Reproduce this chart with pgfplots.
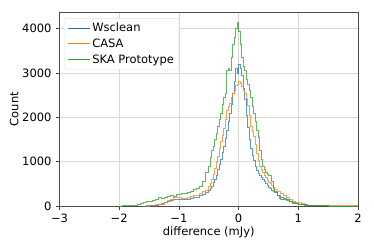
\documentclass[border=0pt]{standalone}
\usepackage{pgfplots}
\pgfplotsset{compat=1.18}
\usepackage{fontspec}
\setmainfont{DejaVu Sans}
\definecolor{cA}{HTML}{1F77B4}
\definecolor{cB}{HTML}{FF7F0E}
\definecolor{cC}{HTML}{2CA02C}
\colorlet{lA}{cA!65!white}
\colorlet{lB}{cB!65!white}
\colorlet{lC}{cC!65!white}
\begin{document}
\fontsize{11.5bp}{13.5bp}\selectfont
\begin{tikzpicture}
\begin{axis}[
  name=ax,
  scale only axis,
  width=298.5bp, height=193.7bp,
  xmin=-3, xmax=2, ymin=0, ymax=4370,
  xtick={-3,-2,-1,0,1,2},
  xticklabels={−3,−2,−1,0,1,2},
  ytick={0,1000,2000,3000,4000},
  yticklabels={0,1000,2000,3000,4000},
  tick align=outside,
  tick pos=left,
  major tick length=3.5bp,
  tick style={black!75, line width=0.6pt},
  axis line style={black!70, line width=0.7pt},
  grid=major,
  grid style={gray!30, line width=0.6pt},
  xlabel={difference (mJy)},
  ylabel={Count},
  xlabel style={at={(0.5,0)}, anchor=north, yshift=-17bp},
  ylabel style={at={(0,0.5)}, anchor=south, yshift=37bp},
  x tick label style={yshift=-0.5bp},
  y tick label style={xshift=-0.5bp},
  legend cell align=left,
  legend style={at={(0.016,0.97)}, anchor=north west, draw=gray!25, rounded corners=2bp,
    fill=white, inner xsep=3bp, inner ysep=2.5bp,
    row sep=1.5bp, font=\fontsize{11.5bp}{13.5bp}\selectfont},
  legend image code/.code={\draw[#1, sharp plot, mark=none, draw opacity=1] plot coordinates {(0bp,0bp) (22bp,0bp)};},
  every axis plot/.append style={const plot, line width=0.8pt, mark=none},
]
% Wsclean
\addplot[draw=cA, draw opacity=0.75] coordinates {
(-1.60,0) (-1.55,5) (-1.50,10) (-1.45,15) (-1.40,20) (-1.35,30) (-1.30,60) (-1.25,90)
(-1.20,110) (-1.15,125) (-1.10,140) (-1.05,150) (-1.00,145) (-0.95,150) (-0.90,160)
(-0.85,155) (-0.80,170) (-0.75,185) (-0.70,200) (-0.65,230) (-0.60,260) (-0.55,310)
(-0.50,360) (-0.475,400) (-0.45,450) (-0.425,540) (-0.40,600) (-0.375,700) (-0.35,820)
(-0.325,940) (-0.30,1060) (-0.275,1200) (-0.25,1350) (-0.225,1520) (-0.20,1710)
(-0.175,1900) (-0.15,2100) (-0.125,2300) (-0.10,2530) (-0.075,2800) (-0.05,3100)
(-0.025,3000) (0.00,3200) (0.025,3100) (0.05,2940) (0.075,2650) (0.10,2400)
(0.125,2050) (0.15,1780) (0.175,1500) (0.20,1300) (0.225,1150) (0.25,1030)
(0.275,900) (0.30,810) (0.325,740) (0.35,690) (0.375,640) (0.40,600) (0.425,550)
(0.45,510) (0.475,460) (0.50,420) (0.525,390) (0.55,360) (0.575,330) (0.60,300)
(0.65,240) (0.70,200) (0.75,165) (0.80,140) (0.85,115) (0.90,90) (0.95,70)
(1.00,45) (1.05,30) (1.10,20) (1.20,10) (1.30,5) (1.40,3) (1.50,2) (1.60,0) (2.00,0)
};
\addlegendentry{Wsclean}
% CASA
\addplot[draw=cB, draw opacity=0.75] coordinates {
(-1.55,0) (-1.50,10) (-1.45,20) (-1.40,25) (-1.35,35) (-1.30,45) (-1.25,80)
(-1.20,125) (-1.15,150) (-1.10,200) (-1.05,205) (-1.00,190) (-0.95,175) (-0.90,180)
(-0.85,195) (-0.80,215) (-0.75,235) (-0.70,250) (-0.65,280) (-0.60,320) (-0.55,360)
(-0.50,450) (-0.475,520) (-0.45,590) (-0.425,720) (-0.40,850) (-0.375,980)
(-0.35,1130) (-0.325,1300) (-0.30,1450) (-0.275,1600) (-0.25,1750) (-0.225,1950)
(-0.20,2150) (-0.175,2250) (-0.15,2310) (-0.125,2460) (-0.10,2530) (-0.075,2600)
(-0.05,2720) (-0.025,2750) (0.00,2800) (0.025,2760) (0.05,2700) (0.075,2610)
(0.10,2550) (0.125,2420) (0.15,2270) (0.175,2050) (0.20,1800) (0.225,1680)
(0.25,1560) (0.275,1380) (0.30,1180) (0.325,1030) (0.35,900) (0.375,820) (0.40,760)
(0.425,690) (0.45,640) (0.475,580) (0.50,530) (0.525,500) (0.55,470) (0.575,420)
(0.60,380) (0.65,320) (0.70,280) (0.75,230) (0.80,195) (0.85,140) (0.90,100)
(0.95,85) (1.00,75) (1.05,50) (1.10,35) (1.15,20) (1.20,12) (1.30,8) (1.40,6)
(1.50,5) (1.60,4) (1.70,4) (1.80,3) (1.90,3) (2.00,3)
};
\addlegendentry{CASA}
% SKA Prototype
\addplot[draw=cC, draw opacity=0.75] coordinates {
(-2.00,0) (-1.95,5) (-1.90,5) (-1.85,10) (-1.80,15) (-1.75,15) (-1.70,25) (-1.65,50)
(-1.60,80) (-1.55,95) (-1.50,110) (-1.45,130) (-1.40,160) (-1.35,185) (-1.30,175)
(-1.25,195) (-1.20,210) (-1.15,230) (-1.10,225) (-1.05,255) (-1.00,270) (-0.95,290)
(-0.90,280) (-0.85,310) (-0.80,340) (-0.75,365) (-0.70,400) (-0.65,450) (-0.60,560)
(-0.55,750) (-0.50,900) (-0.475,1100) (-0.45,1250) (-0.425,1350) (-0.40,1500)
(-0.375,1640) (-0.35,1800) (-0.325,1950) (-0.30,2100) (-0.275,2300) (-0.25,2450)
(-0.225,2550) (-0.20,3050) (-0.175,3100) (-0.15,3050) (-0.125,3350) (-0.10,3650)
(-0.075,3800) (-0.05,4000) (-0.025,4150) (0.00,3950) (0.025,3650) (0.05,3350)
(0.075,3150) (0.10,3050) (0.125,2850) (0.15,2750) (0.175,2600) (0.20,2450)
(0.225,2250) (0.25,2100) (0.275,1900) (0.30,1700) (0.325,1550) (0.35,1250)
(0.375,1050) (0.40,900) (0.425,820) (0.45,760) (0.475,720) (0.50,690) (0.525,680)
(0.55,560) (0.575,400) (0.60,330) (0.625,300) (0.65,230) (0.675,180) (0.70,160)
(0.75,140) (0.80,120) (0.85,95) (0.90,70) (0.95,55) (1.00,45) (1.05,35) (1.10,25)
(1.15,18) (1.20,12) (1.30,8) (1.40,4) (1.50,2) (1.60,0) (2.00,0)
};
\addlegendentry{SKA Prototype}
\end{axis}
\pgfresetboundingbox
\path[use as bounding box] ([shift={(-59.5bp,-41bp)}]ax.south west) rectangle ([shift={(16bp,12.3bp)}]ax.north east);
\end{tikzpicture}
\end{document}
